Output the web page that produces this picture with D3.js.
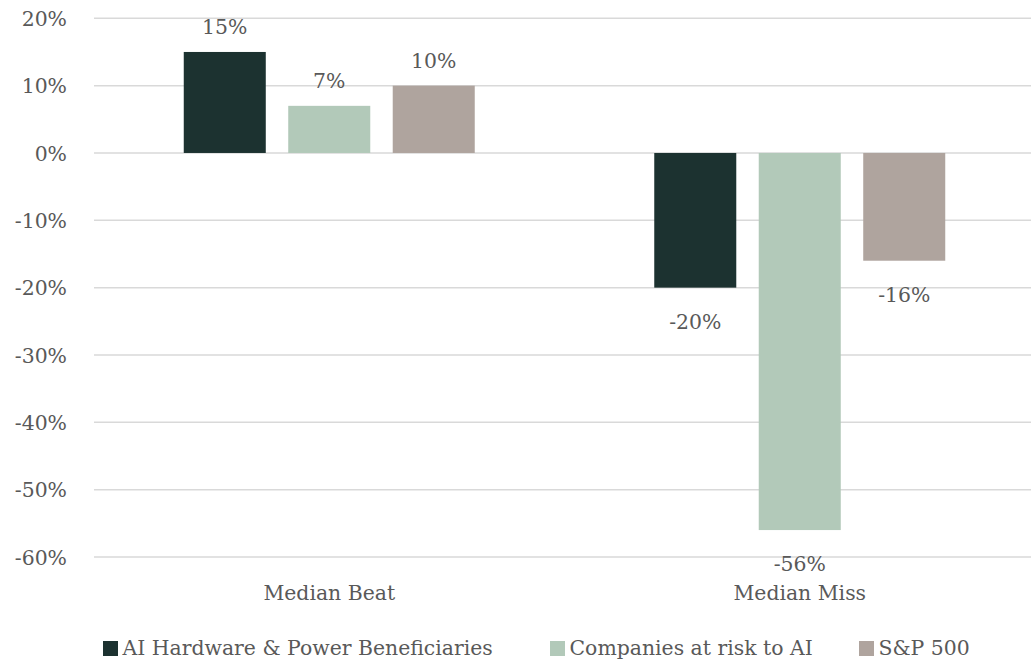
<!DOCTYPE html>
<html><head><meta charset="utf-8">
<script src="https://cdn.jsdelivr.net/npm/d3@7"></script>
<style>
body{margin:0;background:#fff;}
text{font-family:"DejaVu Serif",serif;fill:#595959;}
</style></head>
<body><svg id="c" width="1031" height="661"></svg>
<script>
const categories = ["Median Beat", "Median Miss"];
const seriesNames = ["AI Hardware & Power Beneficiaries", "Companies at risk to AI", "S&P 500"];
const seriesColors = ["#1c3230", "#b2c9b9", "#afa49e"];
const aiHardware = [15, -20];
const atRisk = [7, -56];
const sp500 = [10, -16];
const yTicks = [20, 10, 0, -10, -20, -30, -40, -50, -60];

const series = [aiHardware, atRisk, sp500];
const svg = d3.select("#c");
const fs = 20.4;
const x0 = d3.scaleBand().domain(categories).range([94, 1035]);
const x1 = d3.scaleBand().domain(d3.range(3)).range([0, x0.bandwidth()]).paddingInner(0.215).paddingOuter(0.859);
const y = d3.scaleLinear().domain([-60, 20]).range([557, 18.3]);

// gridlines
svg.append("g").selectAll("line").data(yTicks).join("line")
  .attr("x1", 94).attr("x2", 1031)
  .attr("y1", d => y(d)).attr("y2", d => y(d))
  .attr("stroke", "#d9d9d9").attr("stroke-width", 1.5);

// y axis labels
const yAxis = d3.axisLeft(y).tickValues(yTicks).tickFormat(d => d + "%").tickSize(0).tickPadding(0);
const ga = svg.append("g").attr("transform", "translate(67,0)").call(yAxis);
ga.select(".domain").remove();
ga.selectAll("text").attr("font-family", "DejaVu Serif").attr("font-size", fs).attr("fill", "#595959").attr("dy", "0.35em");

// bars
const data = [];
categories.forEach((c, ci) => series.forEach((s, si) => data.push({c, si, v: s[ci]})));
svg.append("g").selectAll("rect").data(data).join("rect")
  .attr("x", d => x0(d.c) + x1(d.si))
  .attr("width", x1.bandwidth())
  .attr("y", d => y(Math.max(0, d.v)))
  .attr("height", d => Math.abs(y(d.v) - y(0)))
  .attr("fill", d => seriesColors[d.si]);

// value labels
svg.append("g").selectAll("text").data(data).join("text")
  .attr("x", d => x0(d.c) + x1(d.si) + x1.bandwidth() / 2)
  .attr("y", d => d.v >= 0 ? y(d.v) - 18 : y(d.v) + 41)
  .attr("text-anchor", "middle").attr("font-size", fs)
  .text(d => d.v + "%");

// category labels
svg.append("g").selectAll("text").data(categories).join("text")
  .attr("x", d => x0(d) + x0.bandwidth() / 2)
  .attr("y", 600).attr("text-anchor", "middle").attr("font-size", fs)
  .text(d => d);

// legend
const legendX = [103, 550, 859];
const lg = svg.append("g").selectAll("g").data(seriesNames).join("g")
  .attr("transform", (d, i) => `translate(${legendX[i]},0)`);
lg.append("rect").attr("x", 0).attr("y", 641).attr("width", 15).attr("height", 15)
  .attr("fill", (d, i) => seriesColors[i]);
lg.append("text").attr("x", 19.5).attr("y", 655).attr("font-size", fs).text(d => d);
</script></body></html>
